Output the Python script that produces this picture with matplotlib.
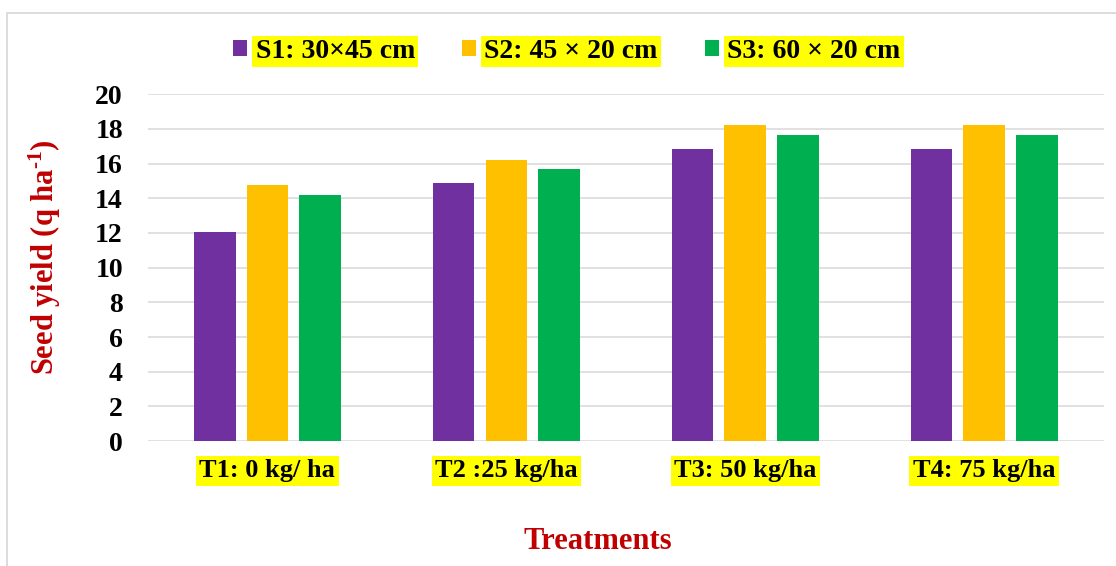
import matplotlib.pyplot as plt
import numpy as np
from matplotlib.patches import Patch, Rectangle

treatments = ["T1: 0 kg/ ha", "T2 :25 kg/ha", "T3: 50 kg/ha", "T4: 75 kg/ha"]
series_names = ["S1: 30×45 cm", "S2: 45 × 20 cm", "S3: 60 × 20 cm"]
s1 = [12.04, 14.88, 16.82, 16.82]
s2 = [14.76, 16.20, 18.25, 18.25]
s3 = [14.20, 15.70, 17.63, 17.63]
colors = ["#7030A0", "#FFC000", "#00B050"]

plt.rcParams["font.family"] = ["Liberation Serif", "DejaVu Serif"]
plt.rcParams["font.weight"] = "bold"
plt.rcParams["mathtext.fontset"] = "custom"
plt.rcParams["mathtext.rm"] = "Liberation Serif:bold"
plt.rcParams["mathtext.bf"] = "Liberation Serif:bold"
plt.rcParams["mathtext.it"] = "Liberation Serif:bold"

fig = plt.figure(figsize=(11.16, 5.66), dpi=100)
ax = fig.add_axes([0.1326, 0.2208, 0.8562, 0.6126])

# light gray chart frame
fig.patches.append(Rectangle((7 / 1116, -0.05), 1.1, 1 - 13 / 566 + 0.05,
                             transform=fig.transFigure, fill=False,
                             edgecolor="#D9D9D9", linewidth=1.3))

x = np.arange(len(treatments))
step = 0.2205
width = 0.174
for i, (vals, c) in enumerate(zip([s1, s2, s3], colors)):
    ax.bar(x + (i - 1) * step, vals, width, color=c, zorder=3)

ax.set_xlim(-0.5, len(treatments) - 0.5)
ax.set_ylim(0, 20)
ax.set_yticks(range(0, 21, 2))
ax.grid(axis="y", color="#D9D9D9", linewidth=1.1, zorder=0)
for s in ax.spines.values():
    s.set_visible(False)

ax.set_xticks(x)
ax.set_xticklabels(treatments, fontsize=19, fontweight="bold")
for t in ax.get_xticklabels():
    t.set_bbox(dict(facecolor="#FFFF00", edgecolor="none", pad=2.5))
ax.tick_params(axis="x", length=0, pad=13)
ax.tick_params(axis="y", length=0, pad=18, labelsize=20)

ax.set_ylabel(r"Seed yield (q ha$^{\text{-1}}$)", fontsize=22, fontweight="bold",
              color="#C00000", va="center")
ax.yaxis.set_label_coords(-0.108, 0.53)
ax.set_xlabel("Treatments", fontsize=22, fontweight="bold", color="#C00000",
              va="baseline")
ax.xaxis.set_label_coords(0.471, -0.312)

handles = [Patch(facecolor=c, edgecolor="none") for c in colors]
leg = fig.legend(handles, series_names, loc="center", ncol=3,
                 bbox_to_anchor=(0.508, 0.909), frameon=False,
                 prop={"family": "Liberation Serif", "weight": "bold", "size": 20},
                 handlelength=0.5, handleheight=0.5, handletextpad=0.3,
                 columnspacing=1.7)
for t in leg.get_texts():
    t.set_bbox(dict(facecolor="#FFFF00", edgecolor="none", pad=2.5))

fig.savefig("out.png", dpi=100)
